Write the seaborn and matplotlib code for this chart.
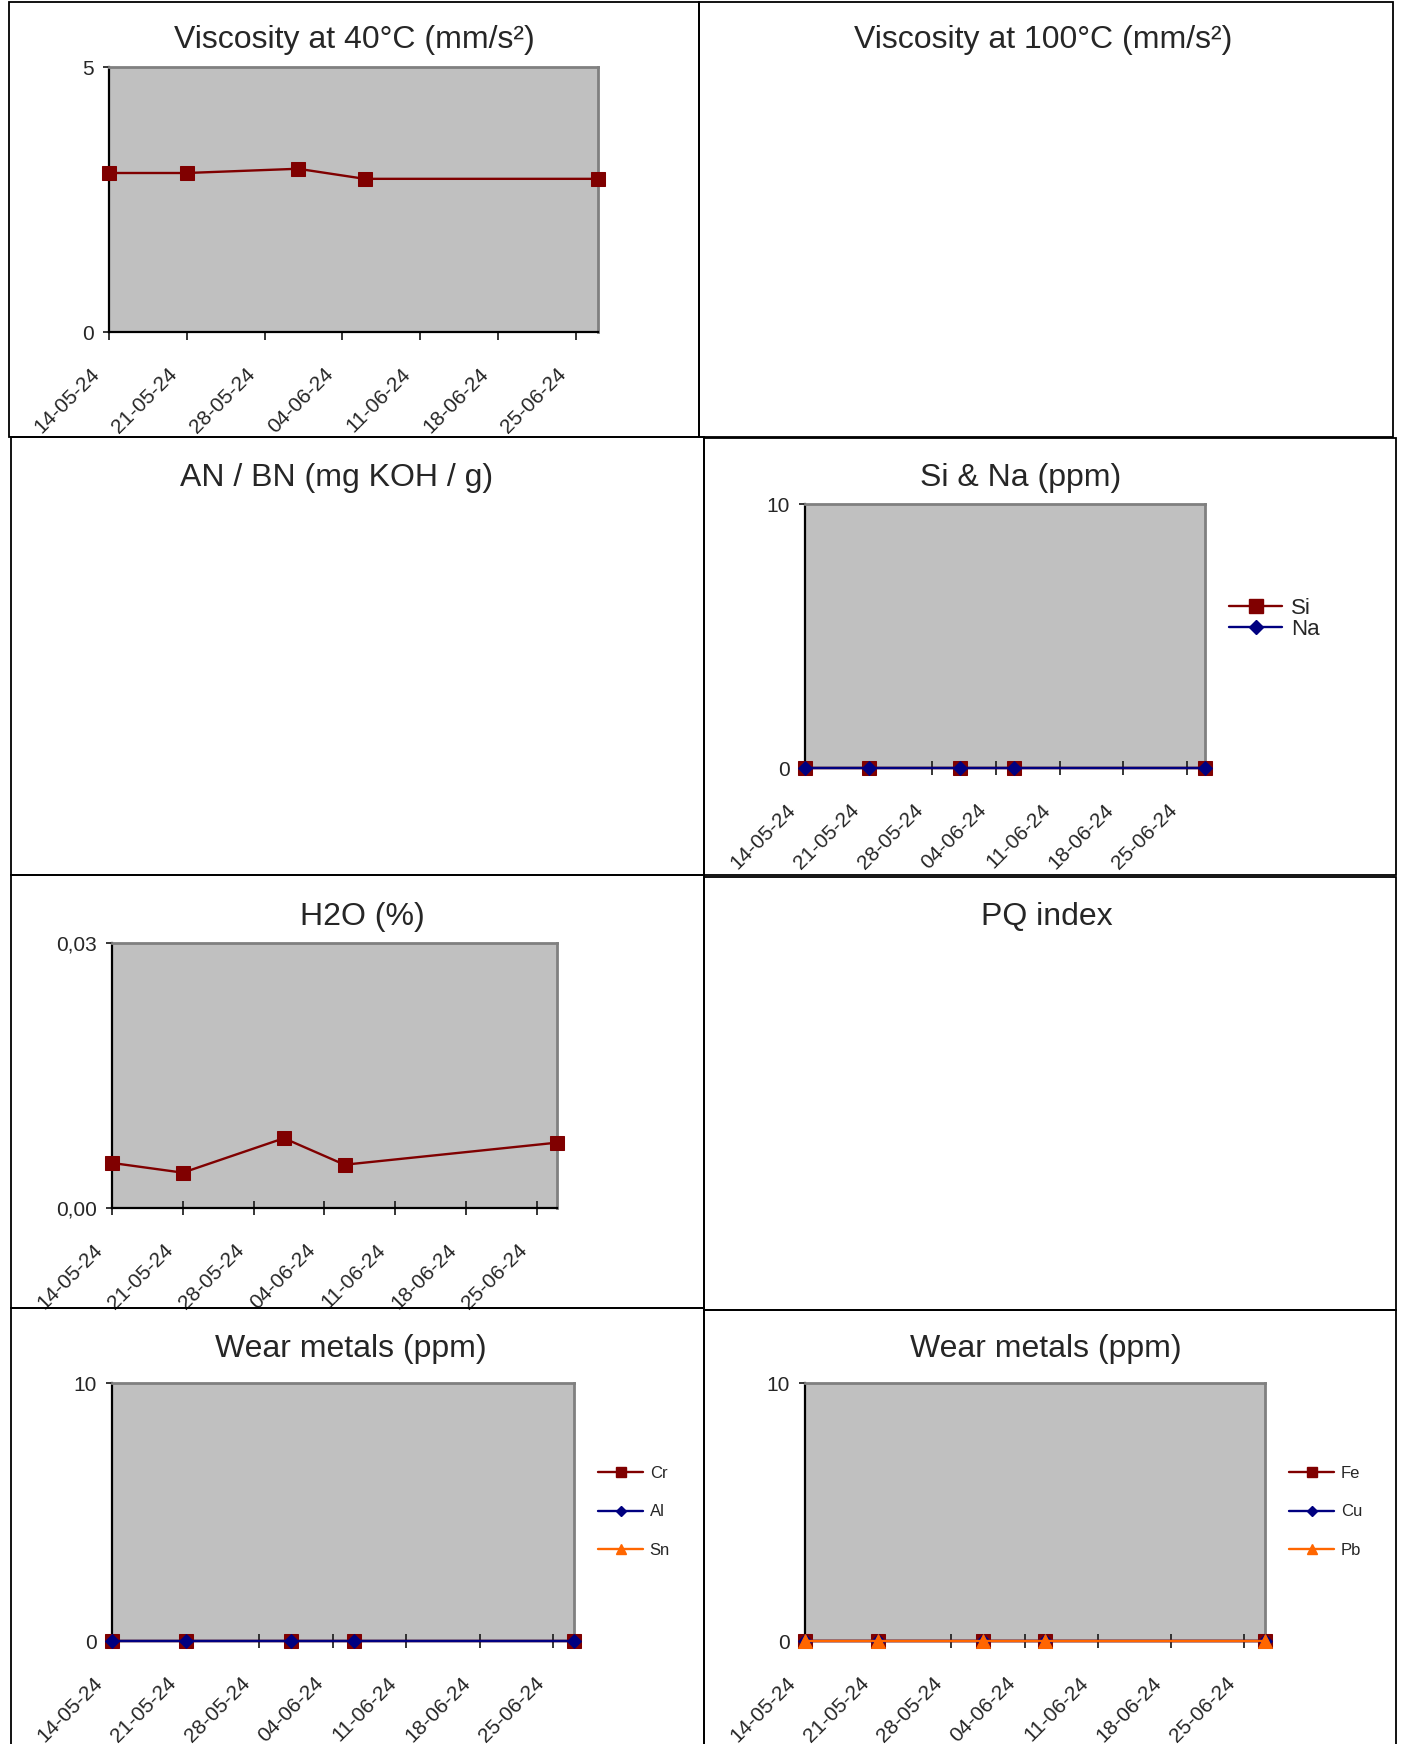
import matplotlib
matplotlib.use("Agg")
import matplotlib.pyplot as plt
import matplotlib.patches as mpatches
import matplotlib.transforms as mtransforms
from matplotlib.lines import Line2D
import numpy as np
import pandas as pd
import seaborn as sns

# sample dates and axis ticks
sample_dates = pd.to_datetime(["2024-05-14", "2024-05-21", "2024-05-31", "2024-06-06", "2024-06-27"])
tick_dates = pd.to_datetime(["2024-05-14", "2024-05-21", "2024-05-28", "2024-06-04",
                             "2024-06-11", "2024-06-18", "2024-06-25"])
tick_labels = ["14-05-24", "21-05-24", "28-05-24", "04-06-24", "11-06-24", "18-06-24", "25-06-24"]

# measurements
visc40 = [3.00, 3.00, 3.08, 2.89, 2.89]
h2o = [0.0051, 0.0040, 0.0079, 0.0049, 0.0074]
si = [0, 0, 0, 0, 0]
na = [0, 0, 0, 0, 0]
cr = [0, 0, 0, 0, 0]
al = [0, 0, 0, 0, 0]
sn = [np.nan, np.nan, np.nan, np.nan, np.nan]
fe = [0, 0, 0, 0, 0]
cu = [0, 0, 0, 0, 0]
pb = [0, 0, 0, 0, 0]

MAROON = "#800000"
NAVY = "#000080"
ORANGE = "#FF6600"
SILVER = "#C0C0C0"
styles = [(MAROON, 's', 10.5), (NAVY, 'D', 7.5), (ORANGE, '^', 10.5)]

sns.set_style("white")
plt.rcParams['font.family'] = ['Liberation Sans', 'DejaVu Sans']

W, H = 1401, 1744
fig = plt.figure(figsize=(W / 100, H / 100), dpi=100)


def PxRect(l, t, r, b):
    return [l / W, 1 - b / H, (r - l) / W, (b - t) / H]


def PanelBorder(l, t, r, b):
    fig.add_artist(mpatches.Rectangle((l / W, 1 - b / H), (r - l) / W, (b - t) / H,
                                      transform=fig.transFigure, fill=False,
                                      edgecolor='black', linewidth=1.3))


def Title(x, y, text):
    fig.text(x / W, 1 - y / H, text, ha='center', va='center', fontsize=23)


def LineChart(rect, names, values, yticks, yticklabels, tickdir='inout'):
    ax = fig.add_axes(PxRect(*rect))
    ax.set_facecolor(SILVER)
    for name, vals, (color, marker, size) in zip(names, values, styles):
        df = pd.DataFrame({'date': sample_dates, 'value': vals}).dropna()
        if df.empty:
            continue
        sns.lineplot(data=df, x='date', y='value', ax=ax, color=color, marker=marker,
                     markersize=size, markeredgecolor=color, linewidth=1.7,
                     clip_on=False, zorder=3, legend=False)
    ax.set_xlim(sample_dates[0], sample_dates[-1])
    ax.set_ylim(yticks[0], yticks[-1])
    ax.set_xticks(tick_dates)
    ax.set_xticklabels(tick_labels, rotation=45, ha='right', va='top', fontsize=15)
    ax.set_yticks(yticks)
    ax.set_yticklabels(yticklabels, fontsize=15)
    ax.set_xlabel("")
    ax.set_ylabel("")
    if tickdir == 'out':
        ax.tick_params(axis='x', direction='out', length=6, width=1.3, pad=13, bottom=True)
    else:
        ax.tick_params(axis='x', direction='inout', length=10, width=1.3, pad=14, bottom=True)
    ax.tick_params(axis='y', direction='out', length=4, width=1.3, pad=7, left=True)
    # nudge the slanted date labels down and to the left, like the original sheet
    shift = mtransforms.ScaledTranslation(-4 / 72, -4 / 72, fig.dpi_scale_trans)
    for tick in ax.xaxis.get_major_ticks():
        tick.label1.set_transform(tick.label1.get_transform() + shift)
    for side in ['top', 'right']:
        ax.spines[side].set_color('#808080')
        ax.spines[side].set_linewidth(2)
    for side in ['left', 'bottom']:
        ax.spines[side].set_color('black')
        ax.spines[side].set_linewidth(1.6)
    return ax


def ChartLegend(ax, names, x, y, fontsize, msize_scale, handlelength, labelspacing):
    handles = [Line2D([], [], color=c, marker=m, markersize=s * msize_scale,
                      markeredgecolor=c, linewidth=1.7) for (c, m, s) in styles[:len(names)]]
    ax.legend(handles, names, loc='upper left', bbox_to_anchor=(x / W, 1 - y / H),
              bbox_transform=fig.transFigure, frameon=False, borderpad=0, borderaxespad=0,
              fontsize=fontsize, handlelength=handlelength, handletextpad=0.4,
              labelspacing=labelspacing)


# panel frames
PanelBorder(9, 2, 699, 437)
PanelBorder(699, 2, 1393, 437)
PanelBorder(11, 437, 704, 875)
PanelBorder(704, 438, 1396, 875)
PanelBorder(11, 875, 704, 1308)
PanelBorder(704, 877, 1396, 1310)
PanelBorder(11, 1308, 704, 1760)
PanelBorder(704, 1310, 1396, 1760)

# titles
Title(354, 40, "Viscosity at 40°C (mm/s²)")
Title(1043, 40, "Viscosity at 100°C (mm/s²)")
Title(337, 478, "AN / BN (mg KOH / g)")
Title(1021, 478, "Si & Na (ppm)")
Title(362, 917, "H2O (%)")
Title(1047, 917, "PQ index")
Title(351, 1349, "Wear metals (ppm)")
Title(1046, 1349, "Wear metals (ppm)")

# charts
LineChart((109, 67, 598, 332), ["Visc"], [visc40], [0, 5], ["0", "5"], tickdir='out')

axSiNa = LineChart((805, 504, 1205, 768), ["Si", "Na"], [si, na], [0, 10], ["0", "10"])
ChartLegend(axSiNa, ["Si", "Na"], 1229, 598, 16, 0.95, 2.4, 0.0)

LineChart((112, 943, 557, 1208), ["H2O"], [h2o], [0, 0.03], ["0,00", "0,03"])

axWearL = LineChart((112, 1383, 574, 1641), ["Cr", "Al", "Sn"], [cr, al, sn], [0, 10], ["0", "10"])
ChartLegend(axWearL, ["Cr", "Al", "Sn"], 598, 1466, 12, 0.7, 2.7, 1.4)

axWearR = LineChart((805, 1383, 1265, 1641), ["Fe", "Cu", "Pb"], [fe, cu, pb], [0, 10], ["0", "10"])
ChartLegend(axWearR, ["Fe", "Cu", "Pb"], 1289, 1466, 12, 0.7, 2.7, 1.4)

fig.savefig("out.png", dpi=100)
plt.close()
